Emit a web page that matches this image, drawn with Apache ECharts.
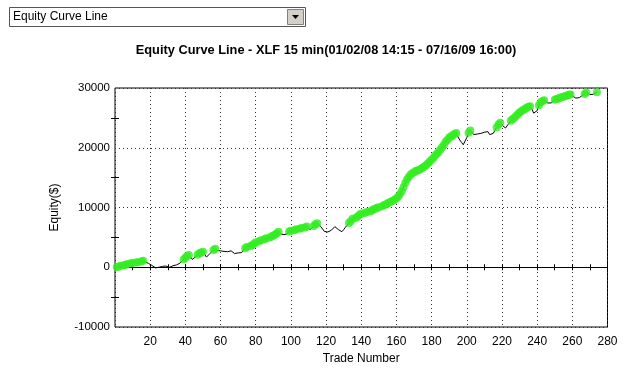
<!DOCTYPE html>
<html><head><meta charset="utf-8">
<script src="https://cdn.jsdelivr.net/npm/echarts@6/dist/echarts.min.js"></script>
<style>html,body{margin:0;padding:0;background:#fff}#c{width:636px;height:375px}</style>
</head><body><div id="c"></div>
<script>
// Equity after each trade (trade numbers 1..274)
const equity = [
  50, 100, 250, 200, 350, 400, 550, 500, 650, 700,
  650, 800, 850, 800, 950, 1100, 900, 700, 650, 500,
  300, 100, -100, -200, 0, -100, 150, 50, 200, 100,
  0, 150, 250, 200, 400, 550, 700, 900, 1300, 1600,
  1900, 2050, 1700, 1300, 1500, 1800, 2100, 2350, 2450, 2600,
  2200, 1700, 1900, 2300, 2600, 2900, 3100, 2800, 2600, 2750,
  2500, 2650, 2800, 2600, 2400, 2750, 2500, 2300, 2150, 2400,
  2300, 2450, 2900, 3200, 3400, 3300, 3550, 3700, 3900, 4200,
  4150, 4350, 4500, 4450, 4700, 4850, 4800, 5000, 5150, 5300,
  5450, 5700, 5950, 5600, 5300, 5450, 5350, 5600, 6000, 6100,
  6050, 6200, 6350, 6300, 6450, 6550, 6500, 6650, 6800, 6600,
  6300, 6200, 6900, 7200, 7350, 7100, 6800, 6400, 6000, 6300,
  5900, 5700, 6200, 6500, 6800, 6600, 6300, 6100, 5950, 6300,
  6700, 7000, 7400, 7700, 8100, 8000, 8300, 8500, 8800, 9000,
  8900, 9100, 9250, 9200, 9350, 9500, 9700, 9800, 9950, 10050,
  10000, 10200, 10400, 10500, 10700, 10850, 11000, 11150, 11300, 11550,
  11800, 12200, 12700, 13400, 14100, 14700, 15100, 15500, 15750, 15900,
  16100, 16200, 16300, 16500, 16700, 16850, 17100, 17400, 17700, 18000,
  18300, 18700, 19000, 19300, 19700, 20100, 20500, 21000, 21300, 21700,
  21900, 22100, 22300, 22450, 21800, 21300, 20900, 20500, 20800, 21700,
  22500, 22900, 22600, 22200, 22500, 22300, 22000, 22400, 22100, 22600,
  22300, 22700, 22200, 22500, 22400, 22900, 23400, 23900, 24200, 23800,
  23500, 23300, 23600, 24100, 24500, 24800, 25000, 25300, 25600, 25900,
  26100, 26300, 26500, 26700, 26850, 26950, 26500, 25800, 25500, 26200,
  27100, 27600, 27800, 27950, 27700, 27500, 27350, 27500, 27800, 28050,
  28150, 28250, 28350, 28450, 28550, 28650, 28750, 28850, 28900, 28700,
  28500, 28300, 28200, 28400, 28600, 28800, 29000, 29250, 29100, 28900,
  28850, 28950, 29150, 29300
];
const xTicks = [20, 40, 60, 80, 100, 120, 140, 160, 180, 200, 220, 240, 260, 280];
const yTicks = [-10000, 0, 10000, 20000, 30000];
const titleText = 'Equity Curve Line - XLF 15 min(01/02/08 14:15 - 07/16/09 16:00)';
const dropdownText = 'Equity Curve Line';

const linePts = equity.map((v, i) => [i + 1, v]);
// green markers: trades that set a new equity high
const highPts = [];
let peak = -Infinity;
equity.forEach((v, i) => { if (v > peak) { peak = v; highPts.push([i + 1, v]); } });

const FONT = 'Liberation Sans';
const chart = echarts.init(document.getElementById('c'), null, {renderer: 'canvas'});
const dotted = {color: '#333', width: 1, type: [1, 3]};
chart.setOption({
  animation: false,
  backgroundColor: '#fff',
  grid: {left: 115, right: 28.5, top: 88, bottom: 48, show: true, borderColor: '#000', borderWidth: 1, backgroundColor: 'transparent'},
  graphic: [
    {type: 'rect', shape: {x: 9.5, y: 7.5, width: 296, height: 19}, style: {fill: '#fff', stroke: '#555', lineWidth: 1}},
    {type: 'rect', shape: {x: 287.5, y: 9.5, width: 16, height: 15}, style: {fill: '#d4d0c8', stroke: '#808080', lineWidth: 1}},
    {type: 'polygon', shape: {points: [[292, 15], [299, 15], [295.5, 19]]}, style: {fill: '#000'}},
    {type: 'text', x: 13, y: 17, style: {text: dropdownText, font: '12px ' + FONT, fill: '#000', textVerticalAlign: 'middle'}},
    {type: 'text', x: 326, y: 50, style: {text: titleText, font: 'bold 12.8px ' + FONT, fill: '#000', textAlign: 'center', textVerticalAlign: 'middle'}}
  ],
  xAxis: [
    {type: 'value', min: 0, max: 280, interval: 20, position: 'bottom',
      axisLine: {show: false, onZero: false}, axisTick: {show: false},
      axisLabel: {color: '#000', fontFamily: FONT, fontSize: 12, margin: 9,
        formatter: v => xTicks.indexOf(v) >= 0 ? String(v) : ''},
      splitLine: {show: true, lineStyle: dotted},
      name: 'Trade Number', nameLocation: 'middle', nameGap: 25,
      nameTextStyle: {color: '#000', fontFamily: FONT, fontSize: 12}},
    {type: 'value', min: 0, max: 280, interval: 10,
      axisLine: {show: true, onZero: true, lineStyle: {color: '#000', width: 1}},
      axisTick: {show: true, length: 3, inside: false, lineStyle: {color: '#000'}},
      axisLabel: {show: false}, splitLine: {show: false}},
    {type: 'value', min: 0, max: 280, interval: 10,
      axisLine: {show: false, onZero: true},
      axisTick: {show: true, length: 3, inside: true, lineStyle: {color: '#000'}},
      axisLabel: {show: false}, splitLine: {show: false}}
  ],
  yAxis: [
    {type: 'value', min: -10000, max: 30000, interval: 10000,
      axisLine: {show: false}, axisTick: {show: false},
      minorTick: {show: true, splitNumber: 2, length: 4, lineStyle: {color: '#000'}},
      axisLabel: {color: '#000', fontFamily: FONT, fontSize: 11.5, margin: 5,
        formatter: v => yTicks.indexOf(v) >= 0 ? String(v) : ''},
      splitLine: {show: true, lineStyle: dotted},
      name: 'Equity($)', nameLocation: 'middle', nameGap: 54, nameRotate: 90,
      nameTextStyle: {color: '#000', fontFamily: FONT, fontSize: 12}},
    {type: 'value', min: -10000, max: 30000, interval: 10000, position: 'left',
      axisLine: {show: false}, axisTick: {show: false, inside: true},
      minorTick: {show: true, splitNumber: 2, length: 4, lineStyle: {color: '#000'}},
      axisLabel: {show: false}, splitLine: {show: false}}
  ],
  series: [
    {type: 'line', data: linePts, showSymbol: false, symbol: 'none',
      lineStyle: {color: '#000', width: 1}, z: 3},
    {type: 'scatter', data: highPts, symbol: 'circle', symbolSize: 8,
      itemStyle: {color: '#33ee22'}, z: 4}
  ]
});
</script></body></html>
